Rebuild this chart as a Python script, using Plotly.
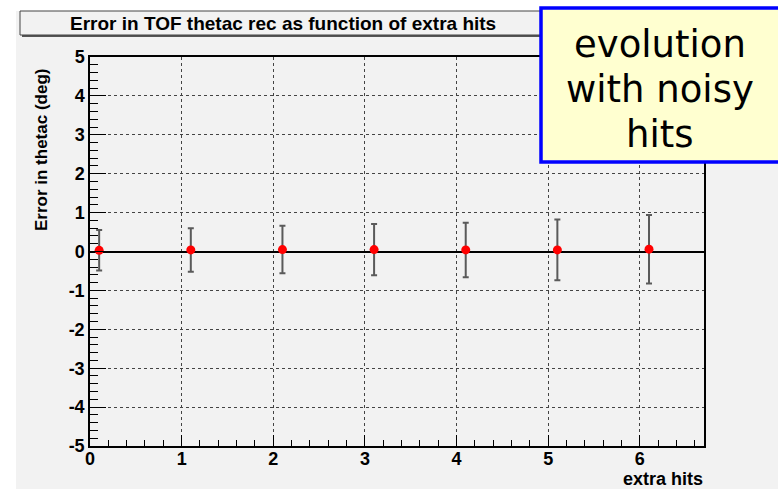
import plotly.graph_objects as go

# ---- data ----
extra_hits = [0.1, 1.1, 2.1, 3.1, 4.1, 5.1, 6.1]
err_mean = [0.03, 0.04, 0.05, 0.05, 0.04, 0.04, 0.06]
err_sigma = [0.52, 0.56, 0.61, 0.66, 0.70, 0.78, 0.88]

x_tick_vals = [0, 1, 2, 3, 4, 5, 6]
x_tick_labels = ["0", "1", "2", "3", "4", "5", "6"]
y_tick_vals = [-5, -4, -3, -2, -1, 0, 1, 2, 3, 4, 5]
y_tick_labels = ["-5", "-4", "-3", "-2", "-1", "0", "1", "2", "3", "4", "5"]

title_text = "Error in TOF thetac rec as function of extra hits"
x_title = "extra hits"
y_title = "Error in thetac (deg)"
note_lines = ["evolution", "with noisy", "hits"]

W, H = 778, 489
L, R, T, B = 90, 74, 57, 43
pw, ph = W - L - R, H - T - B


def px(x):
    return (x - L) / pw


def py(y):
    return (H - B - y) / ph


BG = "#f2f2f2"
FONT = "Liberation Sans"

fig = go.Figure()
fig.add_trace(go.Scatter(
    x=extra_hits, y=err_mean, mode="markers",
    marker=dict(color="#ff0000", size=9),
    error_y=dict(type="data", array=err_sigma, color="#5a5a5a", thickness=2, width=3),
    showlegend=False,
))

axis_common = dict(
    showline=True, linecolor="black", linewidth=1.5, mirror=True,
    ticks="inside", tickcolor="black", tickwidth=1.3,
    showgrid=True, gridcolor="#444444", griddash="dot", gridwidth=1,
    tickfont=dict(family=FONT, size=18, color="black", weight="bold"),
)

fig.update_xaxes(
    range=[0, 6.7], tickvals=x_tick_vals, ticktext=x_tick_labels, ticklen=11,
    minor=dict(ticks="inside", dtick=0.2, tick0=0, ticklen=6, tickcolor="black", showgrid=False),
    zeroline=False, ticklabelstandoff=-4,
    **axis_common,
)
fig.update_yaxes(
    range=[-5, 5], tickvals=y_tick_vals, ticktext=y_tick_labels, ticklen=16,
    minor=dict(ticks="inside", dtick=0.2, tick0=0, ticklen=8, tickcolor="black", showgrid=False),
    zeroline=True, zerolinecolor="black", zerolinewidth=1.5,
    **axis_common,
)

shapes = [
    # canvas gray
    dict(type="rect", xref="paper", yref="paper", x0=px(16), x1=px(800), y0=py(11), y1=py(500),
         fillcolor=BG, line=dict(width=0), layer="below"),
    # title box shadow + box
    dict(type="rect", xref="paper", yref="paper", x0=px(22), x1=px(562), y0=py(13), y1=py(37),
         fillcolor="#555555", line=dict(width=0)),
    dict(type="rect", xref="paper", yref="paper", x0=px(20), x1=px(560), y0=py(11), y1=py(35),
         fillcolor=BG, line=dict(width=1, color="#444444")),
    # note box
    dict(type="rect", xref="paper", yref="paper", x0=px(541), x1=px(800), y0=py(8), y1=py(162),
         fillcolor="#ffffd0", line=dict(width=3.5, color="#0000ff")),
]

annotations = [
    dict(text=title_text, xref="paper", yref="paper", x=px(283), y=py(23),
         xanchor="center", yanchor="middle", showarrow=False,
         font=dict(family=FONT, size=19, color="black", weight="bold")),
    dict(text=x_title, xref="paper", yref="paper", x=px(705), y=py(479),
         xanchor="right", yanchor="middle", showarrow=False,
         font=dict(family=FONT, size=18, color="black", weight="bold")),
    dict(text=y_title, xref="paper", yref="paper", x=px(41), y=py(150),
         xanchor="center", yanchor="middle", showarrow=False, textangle=-90,
         font=dict(family=FONT, size=17, color="black", weight="bold")),
]
for i, line in enumerate(note_lines):
    annotations.append(dict(
        text=line, xref="paper", yref="paper", x=px(660), y=py(45 + 44.5 * i),
        xanchor="center", yanchor="middle", showarrow=False,
        font=dict(family="DejaVu Sans", size=37, color="black")))

fig.update_layout(
    width=W, height=H,
    margin=dict(l=L, r=R, t=T, b=B, pad=0),
    paper_bgcolor="white", plot_bgcolor=BG,
    shapes=shapes, annotations=annotations,
    showlegend=False,
)

fig.write_html("out.html")
